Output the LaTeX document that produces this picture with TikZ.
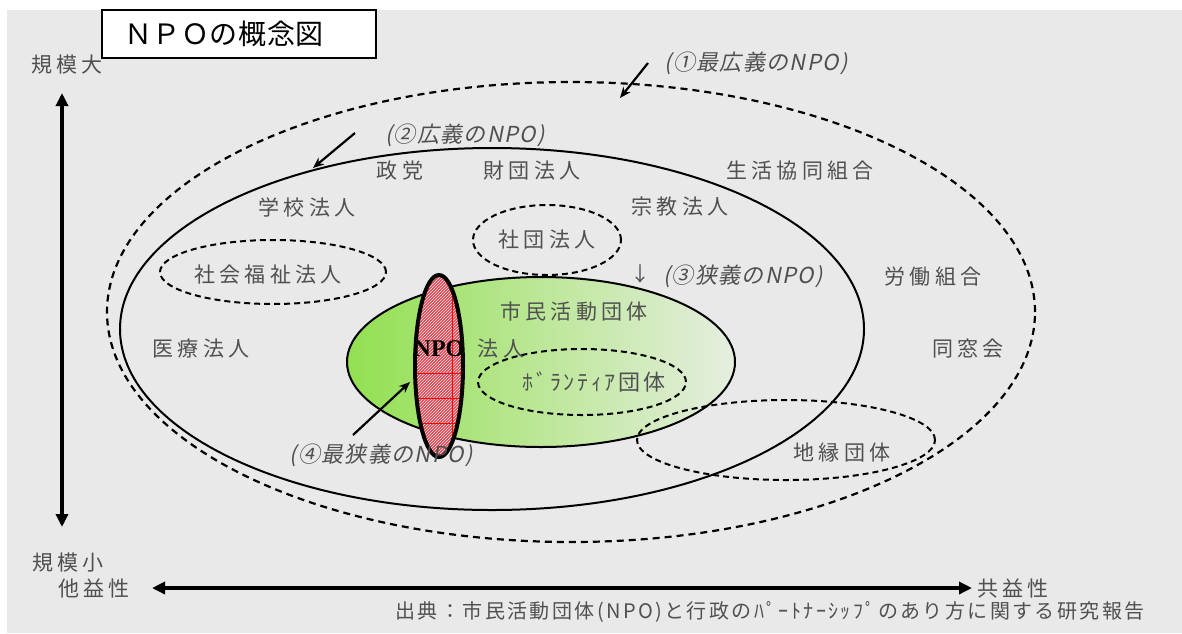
\documentclass[tikz,border=0pt]{standalone}
\usepackage{fontspec}
\setmainfont{Noto Sans CJK JP}
\newfontfamily\jp{Noto Sans CJK JP}
\newfontfamily\jpit{Noto Sans CJK JP}[FakeSlant=0.2]
\newfontfamily\npofont{Liberation Serif}
\usetikzlibrary{patterns,arrows.meta,shapes.geometric}
\definecolor{bggray}{HTML}{E9E9E9}
\definecolor{lblgray}{HTML}{505050}
\definecolor{greenL}{HTML}{92E050}
\definecolor{greenR}{HTML}{E6EEE0}
\definecolor{npored}{HTML}{E04A58}
\tikzset{
  lbl/.style={text=lblgray, inner sep=0pt, font=\jp\fontsize{21}{21}\selectfont\addfontfeature{LetterSpace=20}},
  itl/.style={text=lblgray, inner sep=0pt, font=\jpit\fontsize{22}{22}\selectfont\addfontfeature{LetterSpace=6}},
  dashedring/.style={ellipse, draw=black, line width=2pt, dash pattern=on 6pt off 4pt, inner sep=0pt},
  solidring/.style={ellipse, draw=black, line width=2pt, inner sep=0pt},
  axisarrow/.style={line width=3.5pt, {Triangle[length=13pt,width=12pt]}-{Triangle[length=13pt,width=12pt]}},
  ptr/.style={line width=2.2pt, -{Stealth[length=11pt,width=9pt]}},
}
\begin{document}
\begin{tikzpicture}[x=1pt,y=-1pt]
\useasboundingbox (0,0) rectangle (1182,633);
\fill[white] (0,0) rectangle (1182,633);
\fill[bggray] (7,10) rectangle (1182,633);

% title
\node[draw=black, line width=1.5pt, fill=white, minimum width=274pt, minimum height=48pt, inner sep=0pt] (titlebox) at (239,34) {};
\node[inner sep=0pt, font=\jp\fontsize{28}{28}\selectfont\addfontfeature{LetterSpace=2}] (title) at (224,34) {ＮＰＯの概念図};

% ellipses
\node[dashedring, line width=2.2pt, dash pattern=on 7pt off 5pt, minimum width=928pt, minimum height=460pt] (e1) at (571,312) {};
\node[solidring, minimum width=744pt, minimum height=362pt] (e2) at (492,329) {};
\node[solidring, left color=greenL, right color=greenR, minimum width=388pt, minimum height=170pt] (e3) at (541,362) {};
\node[dashedring, minimum width=148pt, minimum height=70pt] (shadan) at (547,240) {};
\node[dashedring, minimum width=226pt, minimum height=64pt] (fukushi) at (273,272) {};
\node[dashedring, minimum width=208pt, minimum height=66pt] (volring) at (582,382) {};
\node[dashedring, minimum width=298pt, minimum height=80pt] (chien) at (786,440) {};

% red ellipse
\node[ellipse, draw=black, line width=4pt, inner sep=0pt, minimum width=48pt, minimum height=182pt,
  preaction={fill=npored}, pattern=north east lines, pattern color=white!85!npored,
  path picture={
    \draw[red, line width=0.8pt] ([yshift=-7pt]path picture bounding box.center) ++(-40pt,0) -- ++(80pt,0);
    \draw[red, line width=0.8pt] ([yshift=-32pt]path picture bounding box.center) ++(-40pt,0) -- ++(80pt,0);
    \draw[red, line width=0.8pt] ([yshift=-57pt]path picture bounding box.center) ++(-40pt,0) -- ++(80pt,0);
    \draw[red, line width=0.8pt] ([xshift=13pt]path picture bounding box.center) ++(0,-100pt) -- ++(0,200pt);
  }] (e4) at (439,366) {};

% labels
\node[lbl] (seito) at (400,171) {政党};
\node[lbl] (zaidan) at (532,171) {財団法人};
\node[lbl] (seikatsu) at (800,171) {生活協同組合};
\node[lbl] (gakko) at (307,207) {学校法人};
\node[lbl] (shukyo) at (680,207) {宗教法人};
\node[lbl] (shadanlbl) at (547,240) {社団法人};
\node[lbl] (fukushilbl) at (268,275) {社会福祉法人};
\node[lbl] (rodo) at (933,277) {労働組合};
\node[lbl] (shimin) at (574,312) {市民活動団体};
\node[lbl] (iryo) at (201,349) {医療法人};
\node[lbl] (doso) at (968,349) {同窓会};
\node[inner sep=0pt, font=\npofont\bfseries\fontsize{24}{24}\selectfont] (npo) at (439,349) {NPO};
\node[lbl] (hojin) at (501,349) {法人};
\node[lbl, font=\jp\fontsize{22}{22}\selectfont\addfontfeature{LetterSpace=12}] (vol) at (594,382) {ﾎﾞﾗﾝﾃｨｱ団体};
\node[lbl] (chienlbl) at (842,453) {地縁団体};

\node[itl] (l1) at (756,63) {(①最広義のNPO)};
\node[itl] (l2) at (465,135) {(②広義のNPO)};
\node[itl] (l3) at (743,276) {(③狭義のNPO)};
\node[text=lblgray, inner sep=0pt, font=\jp\fontsize{20}{20}\selectfont] (down) at (640,274) {↓};
\node[itl] (l4) at (381,455) {(④最狭義のNPO)};

% pointer arrows
\coordinate (p1s) at (648,63);
\coordinate (p1e) at (620,98);
\coordinate (p2s) at (355,133);
\coordinate (p2e) at (313,168);
\coordinate (p4s) at (353,435);
\coordinate (p4e) at (410,382);
\draw[ptr] (p1s) -- (p1e);
\draw[ptr] (p2s) -- (p2e);
\draw[ptr] (p4s) -- (p4e);

% axes
\node[lbl] (big) at (67,65) {規模大};
\node[lbl] (small) at (68,563) {規模小};
\node[lbl] (tae) at (94,588) {他益性};
\node[lbl] (kyo) at (1013,588) {共益性};
\coordinate (vtop) at (62,93);
\coordinate (vbot) at (62,527);
\coordinate (hl) at (152,588);
\coordinate (hr) at (972,588);
\draw[axisarrow] (vtop) -- (vbot);
\draw[axisarrow] (hl) -- (hr);

% source
\node[text=lblgray, inner sep=0pt, font=\jp\fontsize{20}{20}\selectfont\addfontfeature{LetterSpace=12}] (src) at (770,612) {出典：市民活動団体(NPO)と行政のﾊﾟｰﾄﾅｰｼｯﾌﾟのあり方に関する研究報告};
\end{tikzpicture}
\end{document}
